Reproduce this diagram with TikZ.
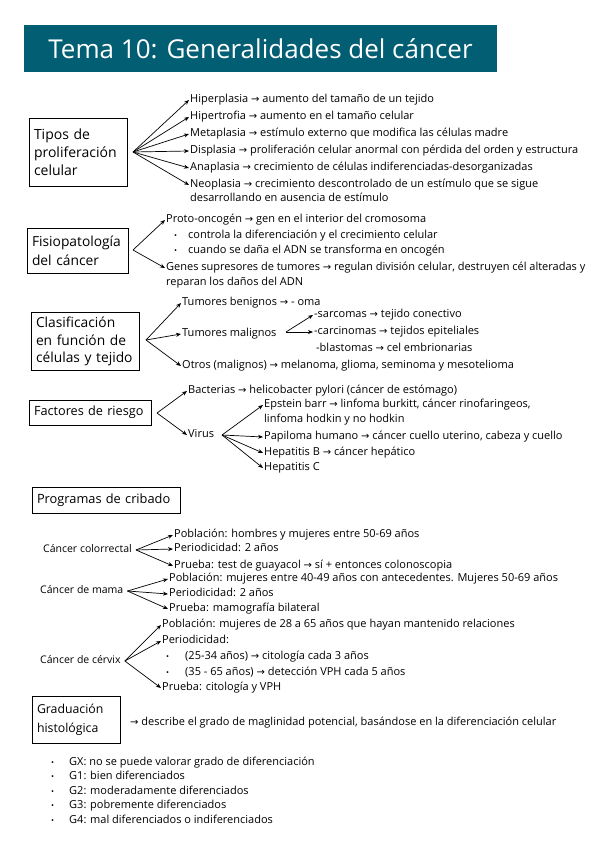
\documentclass[tikz,border=0pt]{standalone}
\usepackage{fontspec}
\setmainfont{Open Sans}
\newfontfamily\djv{DejaVu Sans}
\usetikzlibrary{arrows.meta}
\definecolor{titlebg}{RGB}{2,94,115}
\newcommand{\ra}{{\djv\fontsize{10}{10}\selectfont →}}
\tikzset{
  box/.style={draw, line width=0.9pt, align=left, inner sep=5pt, font=\fontsize{14}{18}\selectfont},
  itm/.style={anchor=west, inner sep=1pt, font=\fontsize{11}{13}\selectfont, text height=8pt, text depth=2.5pt},
  bul/.style={anchor=west, inner sep=1pt, font=\fontsize{8}{8}\selectfont, text height=8pt, text depth=2.5pt},
  arr/.style={-{Stealth[length=5pt,width=4pt]}, line width=0.7pt},
}
\begin{document}
\begin{tikzpicture}[x=1pt,y=-1pt]
\useasboundingbox (0,0) rectangle (600,848);
% title
\node[fill=titlebg, minimum width=473pt, minimum height=47pt, inner sep=0pt, text=white,
      font=\fontsize{26}{30}\selectfont] (title) at (260.5,48.5) {Tema 10: Generalidades del cáncer};

% ---- section 1
\node[box, minimum width=98pt, minimum height=68pt, text width=88pt] (b1) at (78,152) {Tipos de\\proliferación\\celular};
\coordinate (o1) at (133,152);
\node[itm] (t1) at (189,100) {Hiperplasia \ra{} aumento del tamaño de un tejido};
\node[itm] (t2) at (189,117) {Hipertrofia \ra{} aumento en el tamaño celular};
\node[itm] (t3) at (189,134) {Metaplasia \ra{} estímulo externo que modifica las células madre};
\node[itm] (t4) at (189,151) {Displasia \ra{} proliferación celular anormal con pérdida del orden y estructura};
\node[itm] (t5) at (189,168) {Anaplasia \ra{} crecimiento de células indiferenciadas-desorganizadas};
\node[itm] (t6) at (189,185) {Neoplasia \ra{} crecimiento descontrolado de un estímulo que se sigue};
\node[itm] (t6b) at (189,199) {desarrollando en ausencia de estímulo};
\foreach \n in {t1,t2,t3,t4,t5,t6} \draw[arr] (o1) -- (\n.west);

% ---- section 2
\node[box, minimum width=101pt, minimum height=45pt, text width=91pt, font=\fontsize{13.8}{19}\selectfont] (b2) at (77.5,250.5) {Fisiopatología\\del cáncer};
\coordinate (o2) at (133,250);
\node[itm] (p1) at (165,220) {Proto-oncogén \ra{} gen en el interior del cromosoma};
\node[bul] (p1a) at (173,236) {•};
\node[itm] (p1at) at (187,236) {controla la diferenciación y el crecimiento celular};
\node[bul] (p1b) at (173,251) {•};
\node[itm] (p1bt) at (187,251) {cuando se daña el ADN se transforma en oncogén};
\node[itm] (p2) at (165,268) {Genes supresores de tumores \ra{} regulan división celular, destruyen cél alteradas y};
\node[itm] (p2b) at (165,283) {reparan los daños del ADN};
\draw[arr] (o2) -- (p1.west);
\draw[arr] (o2) -- (p2.west);

% ---- section 3
\node[box, minimum width=108pt, minimum height=58pt, text width=98pt, font=\fontsize{13.8}{17.5}\selectfont] (b3) at (85,341.5) {Clasificación\\en función de\\células y tejido};
\coordinate (o3) at (146,340);
\node[itm] (c1) at (181,303) {Tumores benignos \ra{} - oma};
\node[itm] (c2) at (181,334) {Tumores malignos};
\node[itm] (c3) at (181,366) {Otros (malignos) \ra{} melanoma, glioma, seminoma y mesotelioma};
\foreach \n in {c1,c2,c3} \draw[arr] (o3) -- (\n.west);
\coordinate (o3b) at (286,332);
\node[itm] (s1) at (313,315) {-sarcomas \ra{} tejido conectivo};
\node[itm] (s2) at (313,332) {-carcinomas \ra{} tejidos epiteliales};
\node[itm] (s3) at (315,349) {-blastomas \ra{} cel embrionarias};
\draw[arr] (o3b) -- (s1.west);
\draw[arr] (o3b) -- (s2.west);

% ---- section 4
\node[box, minimum width=122pt, minimum height=25pt, text width=112pt, font=\fontsize{12.7}{18}\selectfont] (b4) at (90,412.5) {Factores de riesgo};
\coordinate (o4) at (157,413);
\node[itm] (f1) at (187,391) {Bacterias \ra{} helicobacter pylori (cáncer de estómago)};
\node[itm] (f2) at (187,435) {Virus};
\draw[arr] (o4) -- (f1.west);
\draw[arr] (o4) -- (f2.west);
\coordinate (o4b) at (222,435);
\node[itm] (v1) at (263,405) {Epstein barr \ra{} linfoma burkitt, cáncer rinofaringeos,};
\node[itm] (v1b) at (263,420) {linfoma hodkin y no hodkin};
\node[itm] (v2) at (263,437) {Papiloma humano \ra{} cáncer cuello uterino, cabeza y cuello};
\node[itm] (v3) at (263,453) {Hepatitis B \ra{} cáncer hepático};
\node[itm] (v4) at (263,468) {Hepatitis C};
\foreach \n in {v1,v2,v3,v4} \draw[arr] (o4b) -- (\n.west);

% ---- section 5
\node[box, minimum width=148pt, minimum height=26pt, text width=138pt, font=\fontsize{12.8}{18}\selectfont] (b5) at (106,500) {Programas de cribado};
\node[itm, font=\fontsize{10.5}{13}\selectfont] (cc) at (42,550) {Cáncer colorrectal};
\node[itm] (cc1) at (173,535) {Población: hombres y mujeres entre 50-69 años};
\node[itm] (cc2) at (173,549) {Periodicidad: 2 años};
\node[itm] (cc3) at (173,566) {Prueba: test de guayacol \ra{} sí + entonces colonoscopia};
\foreach \n in {cc1,cc2,cc3} \draw[arr] ([xshift=3pt]cc.east) -- (\n.west);

\node[itm, font=\fontsize{10.5}{13}\selectfont] (cm) at (39,591) {Cáncer de mama};
\node[itm] (cm1) at (168,579) {Población: mujeres entre 40-49 años con antecedentes. Mujeres 50-69 años};
\node[itm] (cm2) at (168,594) {Periodicidad: 2 años};
\node[itm] (cm3) at (168,609) {Prueba: mamografía bilateral};
\foreach \n in {cm1,cm2,cm3} \draw[arr] ([xshift=3pt]cm.east) -- (\n.west);

\node[itm, font=\fontsize{10.5}{13}\selectfont] (cx) at (39,661) {Cáncer de cérvix};
\node[itm] (cx1) at (161,625) {Población: mujeres de 28 a 65 años que hayan mantenido relaciones};
\node[itm] (cx2) at (161,641) {Periodicidad:};
\node[bul] (cxa) at (165,657) {•};
\node[itm] (cxat) at (184,657) {(25-34 años) \ra{} citología cada 3 años};
\node[bul] (cxb) at (165,673) {•};
\node[itm] (cxbt) at (184,673) {(35 - 65 años) \ra{} detección VPH cada 5 años};
\node[itm] (cx3) at (161,688) {Prueba: citología y VPH};
\foreach \n in {cx1,cx2,cx3} \draw[arr] ([xshift=3pt]cx.east) -- (\n.west);

% ---- section 6
\node[box, minimum width=88pt, minimum height=47pt, text width=78pt, font=\fontsize{12.3}{19}\selectfont] (b6) at (76,719.5) {Graduación\\histológica};
\node[itm] (g0) at (129,723) {\ra{} describe el grado de maglinidad potencial, basándose en la diferenciación celular};
\foreach \i/\y/\t in {1/763/GX: no se puede valorar grado de diferenciación,
                      2/777/G1: bien diferenciados,
                      3/792/G2: moderadamente diferenciados,
                      4/806/G3: pobremente diferenciados,
                      5/821/G4: mal diferenciados o indiferenciados}{
  \node[bul] (gb\i) at (50,\y) {•};
  \node[itm] (g\i) at (68,\y) {\t};
}
\end{tikzpicture}
\end{document}
